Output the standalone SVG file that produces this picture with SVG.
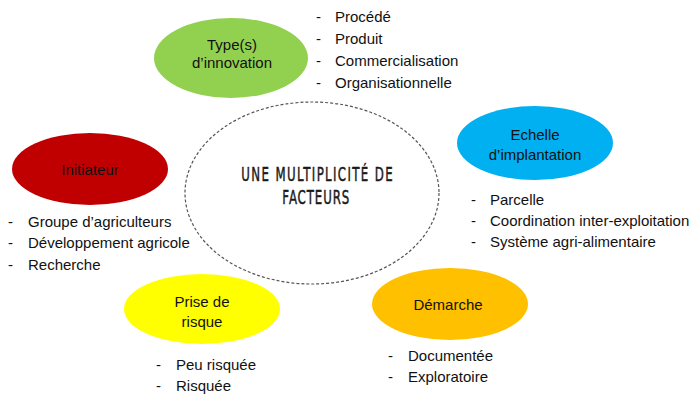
<svg xmlns="http://www.w3.org/2000/svg" width="693" height="394" viewBox="0 0 693 394">
<style>
.t{font-family:"Liberation Sans","DejaVu Sans",sans-serif;font-size:15px;fill:#111}
.c{text-anchor:middle}
.title{font-family:"DejaVu Sans","Liberation Sans",sans-serif;font-size:19px;fill:#1a1a1a;stroke:#1a1a1a;stroke-width:0.5;text-anchor:middle}
</style>
<rect width="693" height="394" fill="#fff"/>
<g id="centre">
<ellipse cx="312" cy="193" rx="127" ry="91" fill="none" stroke="#555" stroke-width="1.2" stroke-dasharray="3,2"/>
<g transform="translate(317,0) scale(0.62,1)">
<text class="title" x="0" y="181" textLength="244" lengthAdjust="spacing">UNE MULTIPLICITÉ DE</text>
<text class="title" x="-2" y="204" textLength="108" lengthAdjust="spacing">FACTEURS</text>
</g>
</g>
<g id="type-innovation">
<ellipse cx="231" cy="58" rx="77" ry="40" fill="#92D050"/>
<text class="t c" x="232" y="50">Type(s)</text>
<text class="t c" x="232" y="68">d’innovation</text>
<text class="t" x="316" y="22">-</text><text class="t" x="335" y="22">Procédé</text>
<text class="t" x="316" y="44">-</text><text class="t" x="335" y="44">Produit</text>
<text class="t" x="316" y="66">-</text><text class="t" x="335" y="66">Commercialisation</text>
<text class="t" x="316" y="88">-</text><text class="t" x="335" y="88">Organisationnelle</text>
</g>
<g id="initiateur">
<ellipse cx="90" cy="169" rx="78" ry="36" fill="#C00000"/>
<text class="t c" x="90" y="175">Initiateur</text>
<text class="t" x="8" y="227">-</text><text class="t" x="28" y="227">Groupe d’agriculteurs</text>
<text class="t" x="8" y="248">-</text><text class="t" x="28" y="248">Développement agricole</text>
<text class="t" x="8" y="270">-</text><text class="t" x="28" y="270">Recherche</text>
</g>
<g id="echelle">
<ellipse cx="535" cy="143" rx="78" ry="37" fill="#00B0F0"/>
<text class="t c" x="535" y="140">Echelle</text>
<text class="t c" x="535" y="160">d’implantation</text>
<text class="t" x="471" y="205">-</text><text class="t" x="490" y="205">Parcelle</text>
<text class="t" x="471" y="226">-</text><text class="t" x="490" y="226">Coordination inter-exploitation</text>
<text class="t" x="471" y="247">-</text><text class="t" x="490" y="247">Système agri-alimentaire</text>
</g>
<g id="prise-risque">
<ellipse cx="202" cy="309" rx="78" ry="35" fill="#FFFF00"/>
<text class="t c" x="202" y="307">Prise de</text>
<text class="t c" x="202" y="327">risque</text>
<text class="t" x="156" y="370">-</text><text class="t" x="176" y="370">Peu risquée</text>
<text class="t" x="156" y="391">-</text><text class="t" x="176" y="391">Risquée</text>
</g>
<g id="demarche">
<ellipse cx="450" cy="304" rx="78" ry="36" fill="#FFC000"/>
<text class="t c" x="448" y="310">Démarche</text>
<text class="t" x="388" y="361">-</text><text class="t" x="408" y="361">Documentée</text>
<text class="t" x="388" y="382">-</text><text class="t" x="408" y="382">Exploratoire</text>
</g>
</svg>
